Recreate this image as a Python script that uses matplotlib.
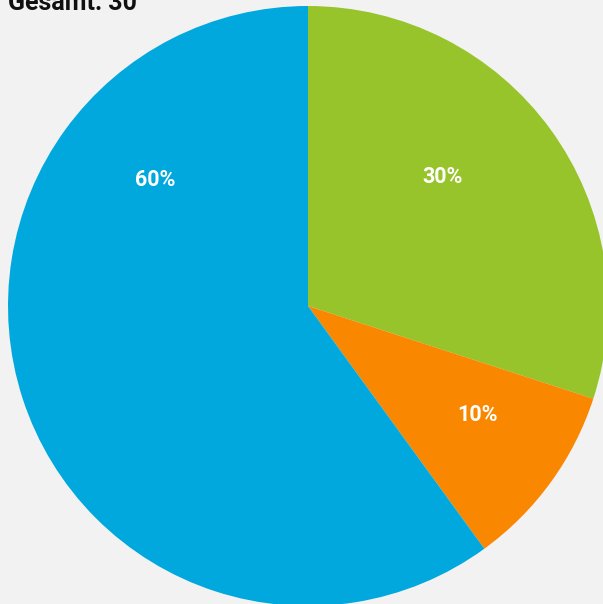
import matplotlib
matplotlib.use("Agg")
import matplotlib.pyplot as plt
import numpy as np

labels = ["A", "B", "C"]
values = [9, 3, 18]
colors = ["#97c42a", "#f98700", "#00a8de"]
pct_labels = ["30%", "10%", "60%"]
# label anchor (angle in degrees, radius fraction)
label_pos = [(43.7, 0.62), (-32.7, 0.67), (140.3, 0.66)]
title = "Gesamt: 30"

W, H = 603, 604
fig = plt.figure(figsize=(W / 100, H / 100), dpi=100)
fig.patch.set_facecolor("#f2f2f2")

cx, cy, r = 308, 306, 300
ax = fig.add_axes([(cx - r) / W, (H - cy - r) / H, 2 * r / W, 2 * r / H])
ax.set_facecolor("#f2f2f2")
ax.pie(values, colors=colors, startangle=90, counterclock=False, radius=1,
       wedgeprops=dict(linewidth=0))
ax.set_xlim(-1, 1)
ax.set_ylim(-1, 1)
ax.set_aspect("equal")
ax.axis("off")

for txt, (ang, rad) in zip(pct_labels, label_pos):
    a = np.deg2rad(ang)
    ax.text(rad * np.cos(a), rad * np.sin(a), txt, color="white",
            fontsize=15.5, fontweight="bold", family=["Roboto", "DejaVu Sans"],
            ha="center", va="center")

fig.text(8 / W, 1 - 10 / H, title, fontsize=18, fontweight="bold",
         family=["Roboto", "DejaVu Sans"], ha="left",
         va="baseline", color="#111111")

fig.savefig("out.png", dpi=100, facecolor=fig.get_facecolor())
